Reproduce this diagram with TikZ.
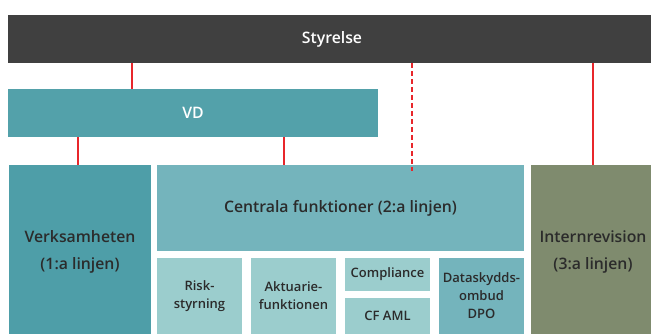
\documentclass[tikz,border=0pt]{standalone}
\usepackage{fontspec}
\setmainfont{Open Sans}[BoldFont={Open Sans Semibold}]
\definecolor{boardgray}{HTML}{404040}
\definecolor{vdteal}{HTML}{53A1AA}
\definecolor{lineteal}{HTML}{4E9EA8}
\definecolor{midteal}{HTML}{74B4BC}
\definecolor{paleteal}{HTML}{9BCDCD}
\definecolor{auditgreen}{HTML}{7F8B6E}
\definecolor{inkgray}{HTML}{2B2B2B}
\definecolor{linkred}{HTML}{E8262B}
\begin{document}
\begin{tikzpicture}[x=1pt, y=-1pt,
    box/.style={rectangle, inner sep=0pt, outer sep=0pt, align=center,
      text=inkgray, font=\bfseries\fontsize{15.8}{27}\selectfont},
    subbox/.style={box, fill=paleteal, minimum width=85, minimum height=76,
      font=\bfseries\fontsize{13}{18}\selectfont},
    link/.style={linkred, line width=2pt}]
  \useasboundingbox (0,0) rectangle (651,334);

  % Top bar and VD
  \node[box, fill=boardgray, text=white, minimum width=648, minimum height=48]
    (styrelse) at (332,39) {Styrelse};
  \node[box, fill=vdteal, text=white, minimum width=370, minimum height=48]
    (vd) at (193,113) {VD};

  % The three lines of defence
  \node[box, fill=lineteal, minimum width=142, minimum height=174]
    (verks) at (80,252) {Verksamheten\\(1:a linjen)};
  \node[box, fill=midteal, minimum width=367, minimum height=86]
    (centrala) at (340.5,208) {Centrala funktioner (2:a linjen)};
  \node[box, fill=auditgreen, minimum width=124, minimum height=174]
    (intern) at (593,252) {Internrevision\\(3:a linjen)};

  % Central functions
  \node[subbox] (risk) at (199.5,296) {Risk-\\styrning};
  \node[subbox] (aktuarie) at (293.5,296) {Aktuarie-\\funktionen};
  \node[subbox, minimum height=33] (compliance) at (387.5,274.5) {Compliance};
  \node[subbox, minimum height=36] (aml) at (387.5,316) {CF AML};
  \node[subbox, fill=midteal] (dpo) at (481.5,296) {Dataskydds-\\ombud\\DPO};

  % Reporting lines
  \draw[link] ([xshift=-61]vd.north) -- ([xshift=-61]vd.north |- styrelse.south);
  \draw[link] ([xshift=-2]verks.north) -- ([xshift=-2]verks.north |- vd.south);
  \draw[link] ([xshift=-56.5]centrala.north) -- ([xshift=-56.5]centrala.north |- vd.south);
  \draw[link] (intern.north) -- (intern.north |- styrelse.south);
  \draw[link, dash pattern=on 5pt off 3pt]
    ([xshift=71.5]centrala.north |- styrelse.south) -- ([xshift=71.5, yshift=-6]centrala.north);
\end{tikzpicture}
\end{document}
